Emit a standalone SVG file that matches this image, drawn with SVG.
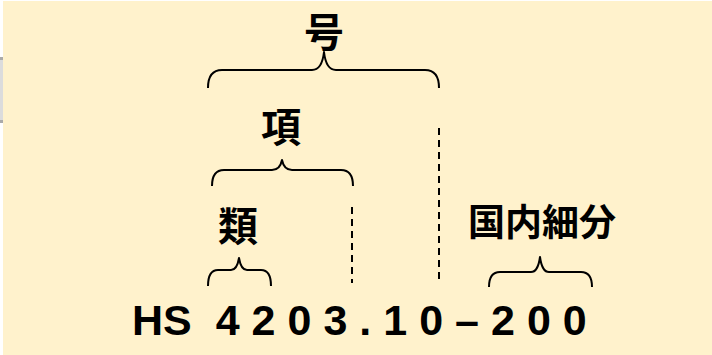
<svg xmlns="http://www.w3.org/2000/svg" width="712" height="355" viewBox="0 0 712 355">
<style>
.bg{fill:#FFF2CC}
.brace{fill:none;stroke:#000;stroke-width:2;stroke-linejoin:round}
.dash{fill:none;stroke:#000;stroke-width:2;stroke-dasharray:7 5}
.cjk{font-family:"Noto Sans CJK JP","Noto Sans CJK SC",sans-serif;font-weight:bold;fill:#000;text-anchor:middle;dominant-baseline:central}
.code{font-family:"Liberation Sans",Arial,sans-serif;font-weight:bold;font-size:43px;fill:#000}
</style>
<rect width="712" height="355" fill="#FFFFFF"/>
<rect class="bg" x="3" y="1" width="709" height="354"/>
<rect x="0" y="57" width="3" height="66" fill="#DCDCDC"/>
<rect x="0" y="57" width="3" height="3" fill="#AAAAAA"/>
<rect x="0" y="120" width="3" height="3" fill="#AAAAAA"/>
<g id="connectors">
<path class="brace" d="M208,88 Q208,70 222,70 L312,70 Q322,70 324,52 Q326,70 336,70 L425,70 Q439,70 439,88"/>
<path class="brace" d="M212,186 Q212,170 224,170 L272,170 Q280,170 282,160 Q284,170 292,170 L341,170 Q353,170 353,186"/>
<path class="brace" d="M208,286 Q208,270 218,270 L231,270 Q237,270 239,258 Q241,270 247,270 L261,270 Q271,270 271,286"/>
<path class="brace" d="M489,287 Q489,272 500,272 L531,272 Q538,272 540,257 Q542,272 549,272 L581,272 Q592,272 592,287"/>
<line class="dash" x1="352" y1="207" x2="352" y2="283"/>
<line class="dash" x1="439" y1="128" x2="439" y2="284"/>
</g>
<g id="node-go"><text class="cjk" x="324" y="30" font-size="40">号</text></g>
<g id="node-kou"><text class="cjk" x="281" y="125" font-size="40">項</text></g>
<g id="node-rui"><text class="cjk" x="238" y="224" font-size="40">類</text></g>
<g id="node-kokunai"><text class="cjk" x="542" y="220" font-size="37">国内細分</text></g>
<g id="node-code"><text class="code" x="132" y="335">HS<tspan letter-spacing="12"> 4203.10–200</tspan></text></g>
</svg>
